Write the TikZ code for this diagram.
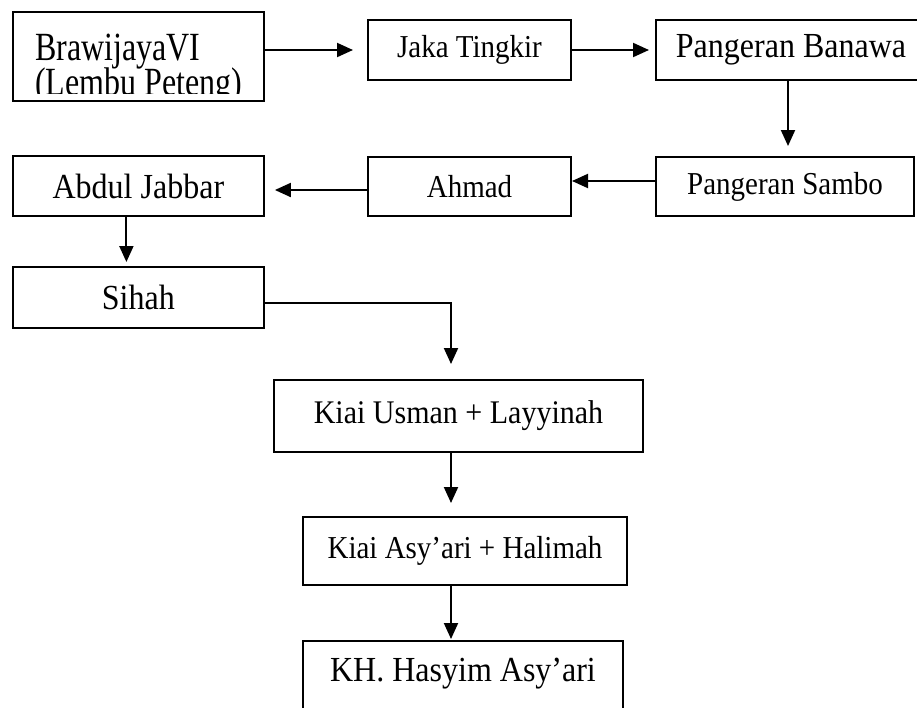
\documentclass[tikz,border=0pt]{standalone}
\usepackage{fontspec}
\setmainfont{Liberation Serif}
\usetikzlibrary{arrows.meta}
\newcommand\fontL{\fontsize{32}{32}\selectfont}
\newcommand\fontS{\fontsize{29}{33}\selectfont}
\newcommand\regang[2][1.1]{\scalebox{1}[#1]{#2}}
\begin{document}
\begin{tikzpicture}[x=1pt, y=-1pt, line width=2pt, line join=miter, >={Triangle[length=16pt,width=14pt]}]
	\tikzset{kotak/.style={draw, inner sep=0pt, align=center}}
	\useasboundingbox (0,0) rectangle (917,707);
	\clip (0,0) rectangle (917,707);
	\coordinate (kolom) at (451,0);
	\node[kotak, minimum width=251pt, minimum height=89pt] (brawijaya) at (138.4,56.7) {};
	\begin{scope}
		\clip (14,14) rectangle (262,93);
		\node[anchor=base west, font=\fontL, inner sep=0pt] (brawijayatxt) at (34,60) {\regang[1.25]{BrawijayaVI}};
		\node[anchor=base west, font=\fontL, inner sep=0pt] (lembutxt) at (34,95) {\regang[1.25]{(Lembu Peteng)}};
	\end{scope}
	\node[kotak, font=\fontS, minimum width=203pt, minimum height=60pt] (jaka) at (469.5,50) {\regang{Jaka Tingkir}};
	\node[kotak, font=\fontL, minimum width=270pt, minimum height=60pt] (banawa) at (791,50) {\regang{Pangeran Banawa}};
	\node[kotak, font=\fontS, minimum width=258pt, minimum height=59pt] (sambo) at (785,186.5) {\regang{Pangeran Sambo}};
	\node[kotak, font=\fontS, minimum width=203pt, minimum height=59pt] (ahmad) at (469.5,186.5) {\regang{Ahmad}};
	\node[kotak, font=\fontL, minimum width=251pt, minimum height=60pt] (abdul) at (138.4,186) {\regang{Abdul Jabbar}};
	\node[kotak, font=\fontL, minimum width=251pt, minimum height=61pt] (sihah) at (138.4,297.5) {\regang{Sihah}};
	\node[kotak, font=\fontsize{30}{32}\selectfont, minimum width=369pt, minimum height=72pt] (usman) at (458.5,416) {\regang{Kiai Usman + Layyinah}};
	\node[kotak, font=\fontS, minimum width=324pt, minimum height=68pt] (asyari) at (465,551) {\regang{Kiai Asy’ari + Halimah}};
	\node[kotak, font=\fontL, anchor=north, minimum width=320pt, inner ysep=18pt, text height=22pt, text depth=22pt] (hasyim) at (463,640) {\regang{KH. Hasyim Asy’ari}};
	\draw[->, shorten >=14pt] (brawijaya.east |- jaka.west) -- (jaka.west);
	\draw[->, shorten >=6pt] (jaka.east) -- (banawa.west);
	\draw[->, shorten >=10pt] ([xshift=-3pt]banawa.south) -- ([xshift=-3pt]banawa.south |- sambo.north);
	\draw[->] ([yshift=5.5pt]sambo.west) -- ([yshift=5.5pt]sambo.west -| ahmad.east);
	\draw[->, shorten >=10pt] ([yshift=-3.5pt]ahmad.west) -- ([yshift=-3.5pt]ahmad.west -| abdul.east);
	\draw[->, shorten >=4pt] ([xshift=-12pt]abdul.south) -- ([xshift=-12pt]abdul.south |- sihah.north);
	\draw[->, shorten >=15pt] ([yshift=-5.5pt]sihah.east) -| (usman.north -| kolom);
	\draw[->, shorten >=13pt] (usman.south -| kolom) -- (asyari.north -| kolom);
	\draw[->, shorten >=1pt] (asyari.south -| kolom) -- (hasyim.north -| kolom);
\end{tikzpicture}
\end{document}
